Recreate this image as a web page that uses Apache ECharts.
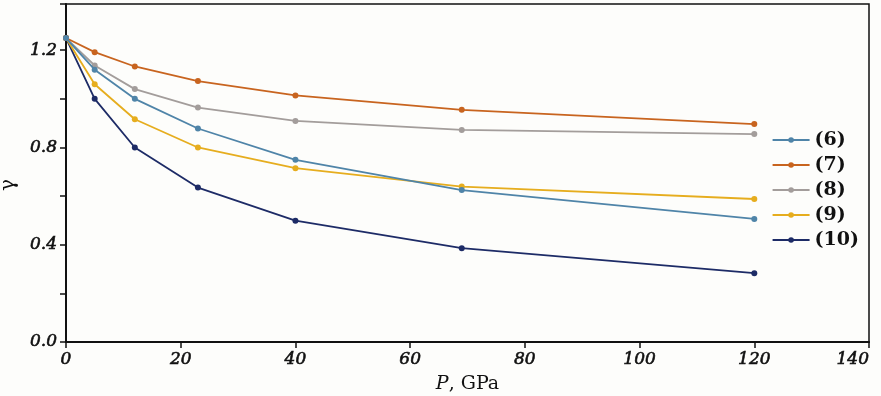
<!DOCTYPE html>
<html>
<head>
<meta charset="utf-8">
<script src="https://cdn.jsdelivr.net/npm/echarts@6/dist/echarts.min.js"></script>
<style>html,body{margin:0;padding:0;background:#fdfdfb;}#c{width:881px;height:396px;}</style>
</head>
<body>
<div id="c"></div>
<script>
const pressure = [0, 5, 12, 23, 40, 69, 120];
const seriesNames = ['(6)', '(7)', '(8)', '(9)', '(10)'];
const gamma6 = [1.25, 1.12, 1.00, 0.878, 0.749, 0.625, 0.506];
const gamma7 = [1.25, 1.192, 1.133, 1.073, 1.014, 0.955, 0.896];
const gamma8 = [1.25, 1.137, 1.040, 0.964, 0.909, 0.872, 0.855];
const gamma9 = [1.25, 1.060, 0.916, 0.800, 0.715, 0.639, 0.588];
const gamma10 = [1.25, 1.000, 0.800, 0.635, 0.499, 0.386, 0.283];
const colors = ['#4f84a8', '#c8641f', '#a39d9b', '#e6ad1e', '#1d2b66'];
const allData = [gamma6, gamma7, gamma8, gamma9, gamma10];

const chart = echarts.init(document.getElementById('c'));
const fontFam = '"DejaVu Serif", "Liberation Serif", serif';
const tickLabel = {fontFamily: fontFam, fontStyle: 'italic', fontSize: 17, color: '#111',
  textBorderColor: '#111', textBorderWidth: 0.6};
chart.setOption({
  backgroundColor: '#fdfdfb',
  animation: false,
  grid: {left: 66, right: 12, top: 4, bottom: 54, outerBoundsMode: 'none', containLabel: false,
    show: true, borderColor: '#111', borderWidth: 1.5, backgroundColor: 'transparent'},
  legend: {
    orient: 'vertical', right: 17, top: 125, itemGap: 5, itemWidth: 37, itemHeight: 7,
    data: seriesNames,
    textStyle: {fontFamily: fontFam, fontSize: 19, lineHeight: 20, fontWeight: 'bold', color: '#111'}
  },
  xAxis: {
    type: 'value', min: 0, max: 140, interval: 20,
    name: '{i|P}, GPa', nameLocation: 'middle', nameGap: 33,
    nameTextStyle: {fontFamily: fontFam, fontSize: 19, color: '#111',
      rich: {i: {fontFamily: fontFam, fontStyle: 'italic', fontSize: 19, color: '#111'}}},
    axisLine: {lineStyle: {color: '#111', width: 2}},
    axisTick: {length: 6, lineStyle: {color: '#111', width: 1.5}},
    axisLabel: Object.assign({margin: 9, alignMaxLabel: 'right'}, tickLabel),
    splitLine: {show: false}
  },
  yAxis: {
    type: 'value', min: 0, max: 1.39, interval: 0.4,
    name: 'γ', nameLocation: 'middle', nameGap: 47,
    nameTextStyle: {fontFamily: fontFam, fontSize: 20, color: '#111', padding: [0, 0, 0, -24]},
    axisLine: {lineStyle: {color: '#111', width: 2}},
    axisTick: {length: 6, lineStyle: {color: '#111', width: 1.5}},
    minorTick: {show: true, splitNumber: 2, length: 6, lineStyle: {color: '#111', width: 1.5}},
    axisLabel: Object.assign({margin: 9, showMaxLabel: false, formatter: v => v.toFixed(1)}, tickLabel),
    splitLine: {show: false}
  },
  series: seriesNames.map((n, i) => ({
    name: n, type: 'line',
    data: pressure.map((p, j) => [p, allData[i][j]]),
    symbol: 'circle', symbolSize: 6,
    lineStyle: {color: colors[i], width: 1.8},
    itemStyle: {color: colors[i]},
    z: 10 - i
  }))
});
</script>
</body>
</html>
